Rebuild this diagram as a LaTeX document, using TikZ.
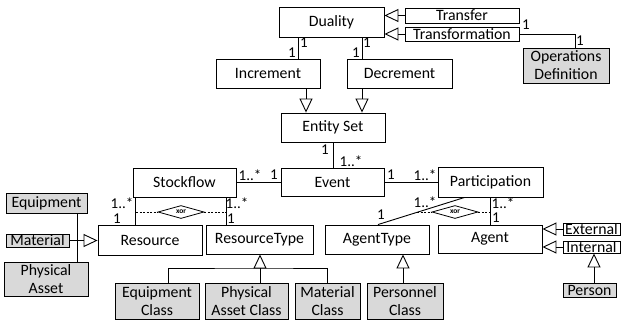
\documentclass[tikz,border=0pt]{standalone}
\usepackage{fontspec}
\setmainfont{Carlito}
\usetikzlibrary{arrows.meta,shapes.geometric}
\begin{document}
\begin{tikzpicture}[x=1pt,y=-1pt,
  every path/.style={line width=0.9pt},
  box/.style={draw, line width=0.9pt, inner sep=0pt, font=\fontsize{15.8}{18}\selectfont, align=center},
  gbox/.style={box, fill=black!15},
  gen/.style={-{Triangle[open,length=14pt,width=13pt]}},
  lbl/.style={inner sep=0pt, font=\fontsize{15}{16}\selectfont},
  xorbox/.style={draw, diamond, aspect=3.5, inner sep=0pt, minimum width=46pt, minimum height=13pt, line width=0.8pt, font=\fontsize{7.5}{8}\selectfont\bfseries},
  xline/.style={dash pattern=on 2pt off 1.5pt, line width=0.8pt}]
\useasboundingbox (0,0) rectangle (627,327);
% nodes
\node[box, minimum width=105pt, minimum height=30pt] (duality) at (331.5,22) {Duality};
\node[box, minimum width=114pt, minimum height=15pt] (transfer) at (462,15.5) {Transfer};
\node[box, minimum width=114pt, minimum height=14pt] (transformation) at (462,34) {Transformation};
\node[gbox, minimum width=86pt, minimum height=35pt] (ops) at (566,65.5) {Operations\\Definition};
\node[box, minimum width=104pt, minimum height=29pt] (increment) at (268,73.5) {Increment};
\node[box, minimum width=105pt, minimum height=29pt] (decrement) at (399.5,73.5) {Decrement};
\node[box, minimum width=104pt, minimum height=29pt] (entityset) at (333,127.5) {Entity Set};
\node[box, minimum width=103pt, minimum height=28pt] (event) at (332.5,182) {Event};
\node[box, minimum width=103pt, minimum height=29pt] (stockflow) at (184.5,182.5) {Stockflow};
\node[box, minimum width=105pt, minimum height=30pt] (participation) at (490.5,182) {Participation};
\node[box, minimum width=104pt, minimum height=30pt] (resource) at (150,240) {Resource};
\node[box, minimum width=107pt, minimum height=29pt] (resourcetype) at (259.5,239.5) {ResourceType};
\node[box, minimum width=104pt, minimum height=29pt] (agenttype) at (377,239.5) {AgentType};
\node[box, minimum width=104pt, minimum height=28pt] (agent) at (490,239) {Agent};
\node[box, minimum width=57pt, minimum height=12pt] (external) at (591.5,229) {External};
\node[box, minimum width=57pt, minimum height=12pt] (internal) at (591.5,247) {Internal};
\node[gbox, minimum width=53pt, minimum height=14pt] (person) at (589.5,290) {Person};
\node[gbox, minimum width=81pt, minimum height=20pt] (equipment) at (46.5,203) {Equipment};
\node[gbox, minimum width=63pt, minimum height=13pt] (material) at (37.5,240.5) {Material};
\node[gbox, minimum width=84pt, minimum height=34pt] (physicalasset) at (46,279) {Physical\\Asset};
\node[gbox, minimum width=84pt, minimum height=36pt] (equipmentclass) at (157,301) {Equipment\\Class};
\node[gbox, minimum width=83pt, minimum height=36pt] (physicalassetclass) at (246.5,301) {Physical\\Asset Class};
\node[gbox, minimum width=65pt, minimum height=36pt] (materialclass) at (327.5,301) {Material\\Class};
\node[gbox, minimum width=76pt, minimum height=36pt] (personnelclass) at (405,301) {Personnel\\Class};
\node[xorbox] (xor1) at (181,212) {xor};
\node[xorbox] (xor2) at (455,212) {xor};
% generalizations
\draw[gen] (transfer.west) -- (duality.east |- transfer.west);
\draw[gen] (transformation.west) -- (duality.east |- transformation.west);
\draw[gen] ([xshift=38pt]increment.south) -- ([xshift=38pt]increment.south |- entityset.north);
\draw[gen] ([xshift=-37.5pt]decrement.south) -- ([xshift=-37.5pt]decrement.south |- entityset.north);
\draw[gen] (material.east) -- (resource.west |- material.east);
\draw ([xshift=30.5pt]equipment.south) -- ([xshift=30.5pt]equipment.south |- physicalasset.north);
\coordinate (j1) at (260,268);
\draw[gen] (j1 |- physicalassetclass.north) -- (j1 |- resourcetype.south);
\draw ([xshift=11pt]equipmentclass.north) |- (j1) -| (materialclass.north);
\draw[gen] ([xshift=-2pt]personnelclass.north) -- ([xshift=-2pt]personnelclass.north |- agenttype.south);
\draw[gen] (external.west) -- (agent.east |- external.west);
\draw[gen] (internal.west) -- (agent.east |- internal.west);
\draw[gen] ([xshift=4.5pt]person.north) -- ([xshift=4.5pt]person.north |- internal.south);
% associations
\draw (transformation.east) -| ([xshift=9pt]ops.north);
\draw ([xshift=-33.5pt]duality.south) -- ([xshift=-33.5pt]duality.south |- increment.north);
\draw ([xshift=30.5pt]duality.south) -- ([xshift=30.5pt]duality.south |- decrement.north);
\draw (entityset.south) -- (entityset.south |- event.north);
\draw (stockflow.east |- event.west) -- (event.west);
\draw (event.east) -- (participation.west |- event.east);
\draw ([xshift=3pt]stockflow.south west) -- ([xshift=3pt]stockflow.south west |- resource.north);
\draw ([xshift=-10pt]stockflow.south east) -- ([xshift=-10pt]stockflow.south east |- resourcetype.north);
\draw (participation.south) -- (participation.south |- agent.north);
\draw ([xshift=1pt]agenttype.north) -- ([xshift=27pt]participation.south west);
% xor constraints
\coordinate (x1l) at (136,212);
\coordinate (x1r) at (226,212);
\coordinate (x2l) at (417,212);
\coordinate (x2r) at (490,212);
\draw[xline] (x1l) -- (xor1.west);
\draw[xline] (xor1.east) -- (x1r);
\draw[xline] (x2l) -- (xor2.west);
\draw[xline] (xor2.east) -- (x2r);
% multiplicities
\node[lbl] (m1) at (304,43) {1};
\node[lbl] (m2) at (292,53) {1};
\node[lbl] (m3) at (367,43) {1};
\node[lbl] (m4) at (356,53) {1};
\node[lbl] (m5) at (526,25) {1};
\node[lbl] (m6) at (580,41) {1};
\node[lbl] (m7) at (325,150) {1};
\node[lbl] (m8) at (351,161) {1..*};
\node[lbl] (m9) at (250,175) {1..*};
\node[lbl] (m10) at (274,175) {1};
\node[lbl] (m11) at (391,175) {1};
\node[lbl] (m12) at (425,175) {1..*};
\node[lbl] (m13) at (122,203) {1..*};
\node[lbl] (m14) at (117,219) {1};
\node[lbl] (m15) at (237,203) {1..*};
\node[lbl] (m16) at (231,219) {1};
\node[lbl] (m17) at (503,203) {1..*};
\node[lbl] (m18) at (496,218) {1};
\node[lbl] (m19) at (381,215) {1};
\node[lbl] (m20) at (425,202) {1..*};
\end{tikzpicture}
\end{document}
